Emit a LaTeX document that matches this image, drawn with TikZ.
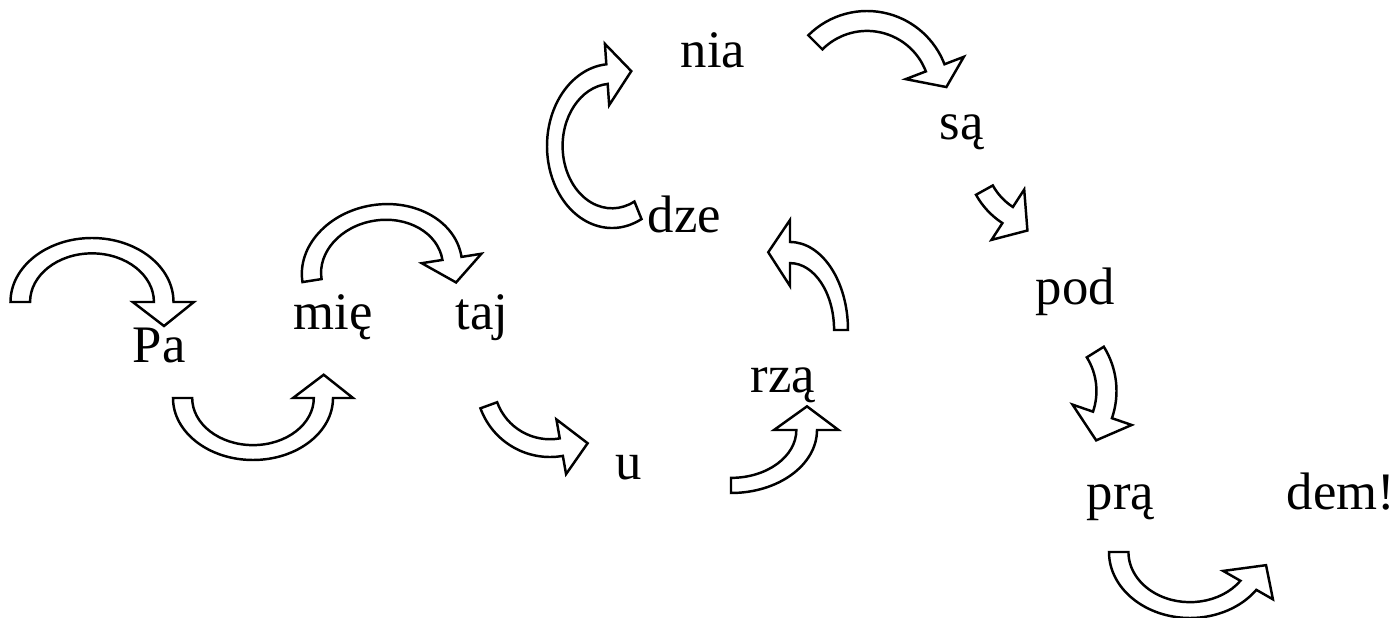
\documentclass[tikz,border=0pt]{standalone}
\usepackage{fontspec}
\setmainfont{Liberation Serif}

\tikzset{
  syll/.style={font=\fontsize{15}{18}\selectfont, anchor=base west, inner sep=0pt},
  bentarrow/.style={draw=black, fill=white, line width=0.7pt, line join=miter}
}

\begin{document}
\begin{tikzpicture}
    \useasboundingbox (0,0) rectangle (13.99,-6.18);

    % Syllables
    \foreach \name/\x/\y/\word in {pa/1.32/-3.63/Pa, mie/2.93/-3.30/mię, taj/4.55/-3.30/taj,
        u/6.15/-4.80/u, rza/7.50/-3.93/rzą, dze/6.47/-2.33/dze, nia/6.80/-0.68/nia,
        sa/9.39/-1.40/są, pod/10.35/-3.05/pod, pra/10.86/-5.10/prą, dem/12.86/-5.10/dem!}
    \node[syll] (\name) at (\x,\y) {\word};

    % Curved block arrows: centre, radii, rotation, tail angle, head angle, tip angle
    \foreach \cx/\cy/\rx/\ry/\rot/\sa/\ha/\ta in {
        0.92/-3.02/0.815/0.64/0/180/0/-23,
        2.53/-3.98/0.80/0.62/0/180/360/383,
        3.82/-2.695/0.805/0.65/9/180/0/-23,
        5.50/-3.83/0.74/0.74/0/-160/-80/-58,
        7.31/-4.30/0.86/0.63/0/-90/0/23,
        7.90/-3.30/0.58/0.88/0/0/90/113,
        6.12/-1.46/0.65/0.82/0/-63/-265/-288,
        8.67/-0.94/0.83/0.83/0/135/21/5,
        10.46/-1.56/0.80/0.80/0/-151/-123/-104,
        10.33/-3.91/0.835/0.835/0/32/-19/-38,
        11.90/-5.52/0.81/0.66/0/180/325/348}
    {
      \begin{scope}[shift={(\cx,\cy)}, rotate=\rot, xscale=\rx, yscale=\ry]
        \draw[bentarrow] (\sa:1) arc[start angle=\sa, end angle=\ha, radius=1]
            -- (\ha:1.25) -- (\ta:0.96) -- (\ha:0.5) -- (\ha:0.76)
            arc[start angle=\ha, end angle=\sa, radius=0.76] -- cycle;
      \end{scope}
    }
\end{tikzpicture}
\end{document}
